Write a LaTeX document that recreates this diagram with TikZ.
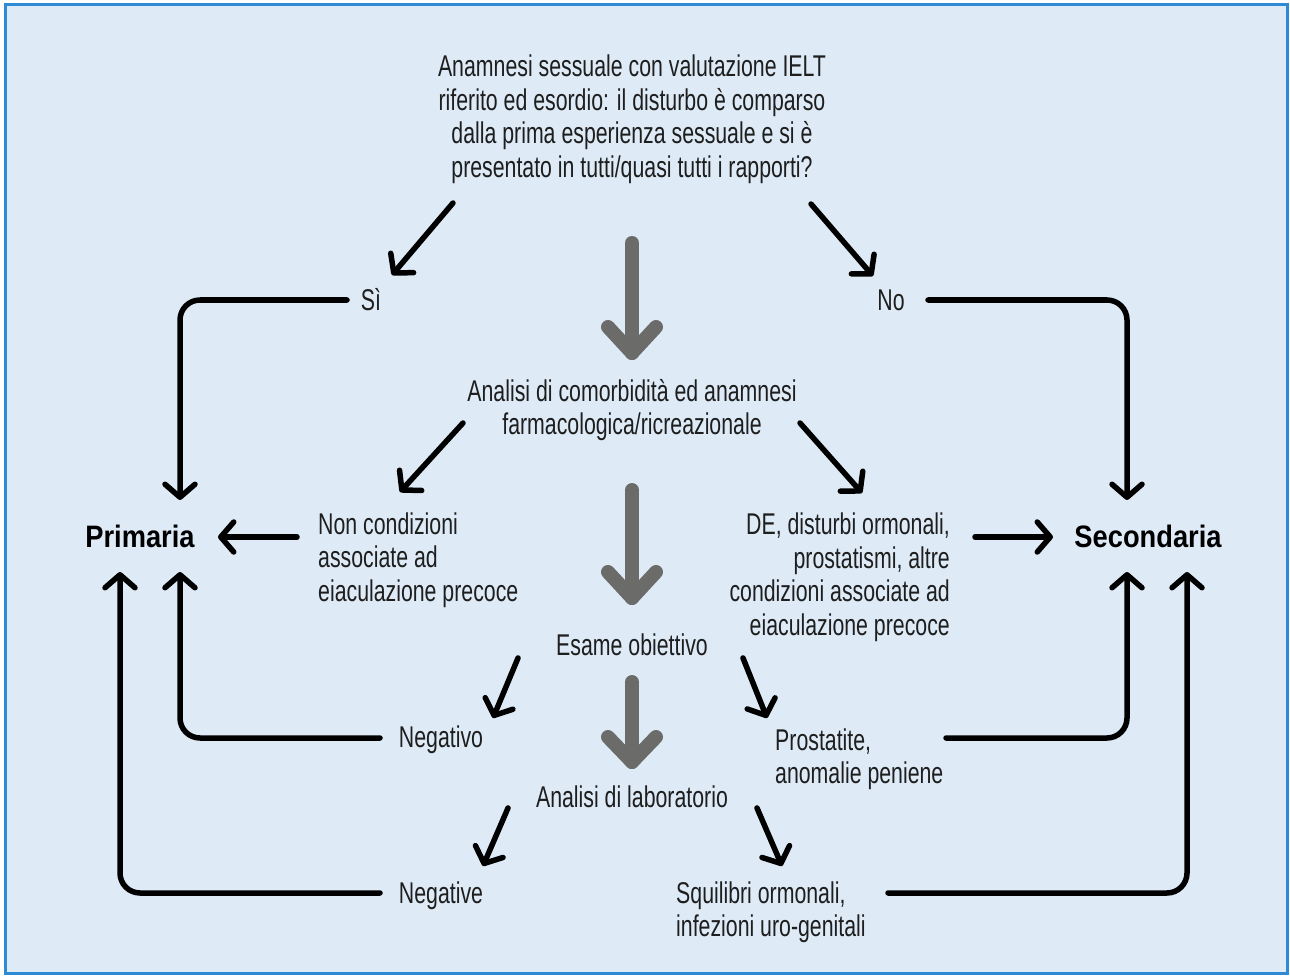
\documentclass[tikz,border=0pt]{standalone}
\usepackage{fontspec}
\setmainfont{Liberation Sans}
\newfontfamily\cf[FakeStretch=0.71]{Liberation Sans}
\newfontfamily\cfb[FakeStretch=0.88]{Liberation Sans}
\usetikzlibrary{arrows.meta}
\definecolor{bgc}{HTML}{DEEBF7}
\definecolor{bordc}{HTML}{2F8AD6}
\definecolor{greyc}{HTML}{6B6B69}
\definecolor{txtc}{HTML}{1E1E1E}
\begin{document}
\begin{tikzpicture}[x=1pt,y=-1pt,
  txt/.style={font=\cf\fontsize{30}{33.5}\selectfont, text=txtc, inner sep=0pt},
  big/.style={font=\cfb\bfseries\fontsize{31}{36}\selectfont, text=black, inner sep=0pt},
  conn/.style={line width=5.5pt, line cap=round, line join=round, rounded corners=20pt,
    -{Straight Barb[length=13pt,width=30pt,round]}},
  greyarrow/.style={line width=14pt, line cap=round, line join=round, draw=greyc}]
\useasboundingbox (0,0) rectangle (1290,976);
\fill[white] (0,0) rectangle (1290,976);
\fill[bgc] (5,5) rectangle (1287,973);
\draw[bordc, line width=3pt] (5,5) rectangle (1287,973);

% nodes
\node[txt, align=center] (q) at (632,119) {Anamnesi sessuale con valutazione IELT\\riferito ed esordio: il disturbo è comparso\\dalla prima esperienza sessuale e si è\\presentato in tutti/quasi tutti i rapporti?};
\node[txt] (si) at (371,300) {Sì};
\node[txt] (no) at (891,300) {No};
\node[txt, align=center] (com) at (632,410) {Analisi di comorbidità ed anamnesi\\farmacologica/ricreazionale};
\node[txt, align=left, anchor=west] (nc) at (318,560) {Non condizioni\\associate ad\\eiaculazione precoce};
\node[txt, align=right, anchor=east] (de) at (950,577) {DE, disturbi ormonali,\\prostatismi, altre\\condizioni associate ad\\eiaculazione precoce};
\node[big] (pri) at (140,536) {Primaria};
\node[big] (sec) at (1148,536) {Secondaria};
\node[txt] (eo) at (632,645) {Esame obiettivo};
\node[txt] (neg1) at (441,740) {Negativo};
\node[txt, align=left, anchor=west] (pro) at (775,759) {Prostatite,\\anomalie peniene};
\node[txt] (lab) at (632,797) {Analisi di laboratorio};
\node[txt] (neg2) at (441,896) {Negative};
\node[txt, align=left, anchor=west] (sq) at (676,912) {Squilibri ormonali,\\infezioni uro-genitali};

% coordinates
\coordinate (qL) at (453,203); \coordinate (siT) at (392,275);
\coordinate (qR) at (811,204); \coordinate (noT) at (873,276);
\coordinate (siE) at (347,300); \coordinate (priN) at (180,500);
\coordinate (noE) at (928,300); \coordinate (secN) at (1127,500);
\coordinate (comL) at (463,423); \coordinate (ncT) at (400,492);
\coordinate (comR) at (800,423); \coordinate (deT) at (862,493);
\coordinate (ncW) at (297,537); \coordinate (priE) at (218,537);
\coordinate (deE) at (975,537); \coordinate (secW) at (1053,537);
\coordinate (eoL) at (518,658); \coordinate (n1T) at (493,718);
\coordinate (eoR) at (743,658); \coordinate (proT) at (767,718);
\coordinate (n1W) at (380,738); \coordinate (priS1) at (180,572);
\coordinate (proE) at (946,738); \coordinate (secS1) at (1127,572);
\coordinate (labL) at (508,808); \coordinate (n2T) at (483,866);
\coordinate (labR) at (757,808); \coordinate (sqT) at (782,866);
\coordinate (n2W) at (380,893); \coordinate (priS2) at (120,572);
\coordinate (sqE) at (888,893); \coordinate (secS2) at (1187,572);

% black connectors
\draw[conn] (qL) -- (siT);
\draw[conn] (qR) -- (noT);
\draw[conn] (siE) -| (priN);
\draw[conn] (noE) -| (secN);
\draw[conn] (comL) -- (ncT);
\draw[conn] (comR) -- (deT);
\draw[conn] (ncW) -- (priE);
\draw[conn] (deE) -- (secW);
\draw[conn] (eoL) -- (n1T);
\draw[conn] (eoR) -- (proT);
\draw[conn] (n1W) -| (priS1);
\draw[conn] (proE) -| (secS1);
\draw[conn] (labL) -- (n2T);
\draw[conn] (labR) -- (sqT);
\draw[conn] (n2W) -| (priS2);
\draw[conn] (sqE) -| (secS2);

% grey arrows
\coordinate (g1a) at (632,243); \coordinate (g1b) at (632,353);
\draw[greyarrow] (g1a) -- (g1b);
\draw[greyarrow] (608,327) -- (g1b) -- (656,327);
\coordinate (g2a) at (632,490); \coordinate (g2b) at (632,598);
\draw[greyarrow] (g2a) -- (g2b);
\draw[greyarrow] (608,572) -- (g2b) -- (656,572);
\coordinate (g3a) at (632,682); \coordinate (g3b) at (632,762);
\draw[greyarrow] (g3a) -- (g3b);
\draw[greyarrow] (608,737) -- (g3b) -- (656,737);
\end{tikzpicture}
\end{document}
